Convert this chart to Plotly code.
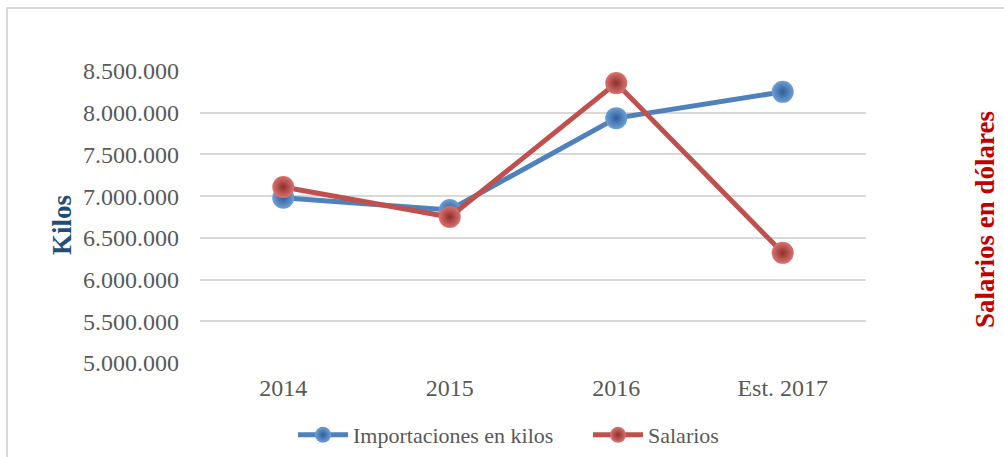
import plotly.graph_objects as go

categories = ["2014", "2015", "2016", "Est. 2017"]
importaciones_kilos = [6980000, 6835000, 7935000, 8250000]
salarios = [7110000, 6750000, 8355000, 6320000]
y_ticks = [5000000, 5500000, 6000000, 6500000, 7000000, 7500000, 8000000, 8500000]
y_tick_labels = ["5.000.000", "5.500.000", "6.000.000", "6.500.000",
                 "7.000.000", "7.500.000", "8.000.000", "8.500.000"]

W, H = 1004, 457
L, R, T, B = 200, 138, 71, 94
pw, ph = W - L - R, H - T - B

def px(x):
    return (x - L) / pw

def py(y):
    return 1 - (y - T) / ph

font_serif = "Liberation Serif, Times New Roman, serif"

fig = go.Figure()
fig.add_trace(go.Scatter(
    x=categories, y=importaciones_kilos, name="Importaciones en kilos",
    mode="lines+markers",
    line=dict(color="#4F81BD", width=5),
    marker=dict(size=22, color="#6E9FD8", line=dict(width=0),
                gradient=dict(type="radial", color="#2E5E97")),
    yaxis="y",
))
fig.add_trace(go.Scatter(
    x=categories, y=salarios, name="Salarios",
    mode="lines+markers",
    line=dict(color="#C0504D", width=5),
    marker=dict(size=22, color="#D9736F", line=dict(width=0),
                gradient=dict(type="radial", color="#8E2E2B")),
    yaxis="y2",
))

fig.update_layout(
    width=W, height=H,
    margin=dict(l=L, r=R, t=T, b=B, autoexpand=False),
    paper_bgcolor="white", plot_bgcolor="white",
    font=dict(family=font_serif, size=24, color="#595959"),
    xaxis=dict(range=[-0.5, 3.5], showgrid=False, showline=False, zeroline=False, ticks="",
               tickfont=dict(size=24, color="#595959"), ticklabelstandoff=8, automargin=False),
    yaxis=dict(range=[5000000, 8500000], tickvals=y_ticks, ticktext=y_tick_labels,
               showgrid=True, gridcolor="#D9D9D9", gridwidth=2, zeroline=False,
               showline=False, ticks="", ticklabelstandoff=20, automargin=False,
               tickfont=dict(size=24, color="#595959")),
    yaxis2=dict(range=[5000000, 8500000], overlaying="y", side="right", automargin=False,
                showgrid=False, showticklabels=False, zeroline=False, showline=False),
    showlegend=True,
    legend=dict(orientation="h", xref="container", yref="container",
                x=293 / W, xanchor="left", y=1 - 435 / H, yanchor="middle",
                font=dict(size=22, color="#595959"), itemwidth=50, tracegroupgap=0,
                entrywidth=230),
    annotations=[
        dict(text="<b>Kilos</b>", xref="paper", yref="paper", x=px(62), y=py(225),
             showarrow=False, textangle=-90, font=dict(size=27, color="#1F4E79", family=font_serif),
             xanchor="center", yanchor="middle"),
        dict(text="<b>Salarios en dólares</b>", xref="paper", yref="paper", x=px(985), y=py(220),
             showarrow=False, textangle=-90, font=dict(size=27, color="#C00000", family=font_serif),
             xanchor="center", yanchor="middle"),
    ],
    shapes=[
        dict(type="rect", xref="paper", yref="paper", x0=px(7), x1=px(1015), y0=py(8), y1=py(470),
             line=dict(color="#D9D9D9", width=2), layer="below"),
    ],
)

fig.write_html("out.html", config={"displayModeBar": False},
               post_script="document.body.style.margin='0px';")
